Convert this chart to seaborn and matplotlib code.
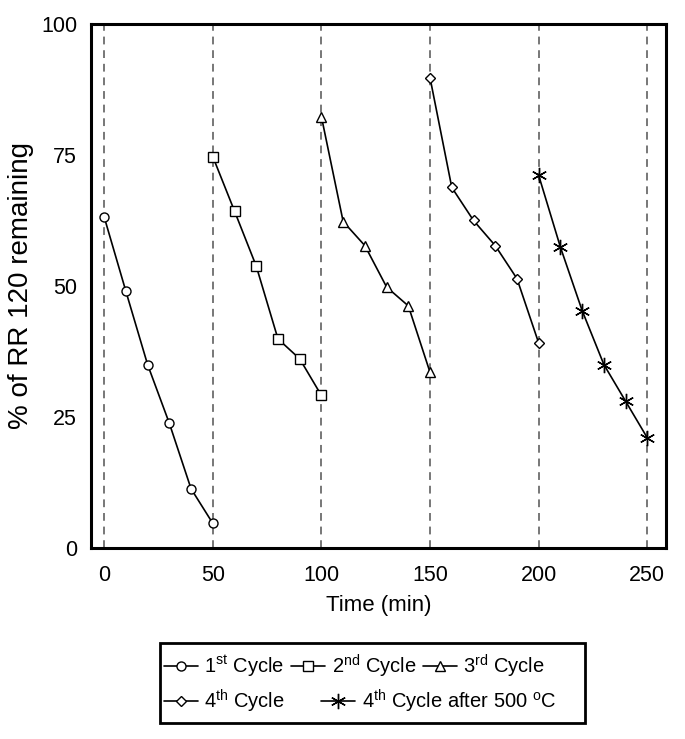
import matplotlib
matplotlib.use("Agg")
import matplotlib.pyplot as plt
from matplotlib.patches import Rectangle
import seaborn as sns
import pandas as pd

sns.set_style("white")
plt.rcParams["font.family"] = ["Liberation Sans", "DejaVu Sans"]
plt.rcParams["mathtext.default"] = "regular"
plt.rcParams["text.color"] = "black"
plt.rcParams["axes.labelcolor"] = "black"
plt.rcParams["xtick.color"] = "black"
plt.rcParams["ytick.color"] = "black"

# data
t1 = [0, 10, 20, 30, 40, 50]
c1 = [63.2, 49.0, 35.0, 23.8, 11.3, 4.7]
t2 = [50, 60, 70, 80, 90, 100]
c2 = [74.7, 64.3, 53.8, 39.9, 36.1, 29.1]
t3 = [100, 110, 120, 130, 140, 150]
c3 = [82.3, 62.3, 57.7, 49.8, 46.2, 33.5]
t4 = [150, 160, 170, 180, 190, 200]
c4 = [89.7, 68.8, 62.5, 57.7, 51.4, 39.1]
t5 = [200, 210, 220, 230, 240, 250]
c5 = [71.1, 57.4, 45.3, 35.0, 28.0, 21.0]

labels = ["1$^{st}$ Cycle", "2$^{nd}$ Cycle", "3$^{rd}$ Cycle",
          "4$^{th}$ Cycle", "4$^{th}$ Cycle after 500 $^{o}$C"]
markers = ["o", "s", "^", "D", (6, 2, 0)]
msizes = [6.5, 6.5, 7.5, 5.5, 11]
cycle_starts = [0, 50, 100, 150, 200, 250]

fig = plt.figure(figsize=(6.85, 7.39), dpi=100)
ax = fig.add_axes([0.133, 0.2585, 0.839, 0.709])

for x in cycle_starts:
    ax.axvline(x, color="#777777", ls=(0, (4, 3)), lw=1.4, zorder=1)

for t, c, lab, m, ms in zip([t1, t2, t3, t4, t5], [c1, c2, c3, c4, c5], labels, markers, msizes):
    df = pd.DataFrame({"time": t, "pct": c})
    sns.lineplot(data=df, x="time", y="pct", ax=ax, color="black", lw=1.2,
                 marker=m, markersize=ms, markerfacecolor="white",
                 markeredgecolor="black", markeredgewidth=1.0, label=lab, zorder=3)

h, l = ax.get_legend_handles_labels()
ax.get_legend().remove()

# legend box drawn as two rows, like the original
fig.patches.append(Rectangle((160 / 685, 1 - 723 / 739), 425 / 685, 80 / 739,
                             transform=fig.transFigure, fill=False,
                             edgecolor="black", lw=2.0))
leg_kw = dict(fontsize=14.5, frameon=False, handlelength=1.7, handletextpad=0.3,
              columnspacing=0.35, borderpad=0, borderaxespad=0, loc="center left")
leg1 = fig.legend(h[:3], l[:3], ncol=3, bbox_to_anchor=(164 / 685, 1 - 666 / 739), **leg_kw)
leg_kw["columnspacing"] = 1.8
leg2 = fig.legend(h[3:], l[3:], ncol=2, bbox_to_anchor=(164 / 685, 1 - 701 / 739), **leg_kw)

ax.set_xlim(-6, 258.5)
ax.set_ylim(0, 100)
ax.set_xticks([0, 50, 100, 150, 200, 250])
ax.set_yticks([0, 25, 50, 75, 100])
ax.set_xlabel("Time (min)", fontsize=16, labelpad=6)
ax.set_ylabel("% of RR 120 remaining", fontsize=20, labelpad=5)
ax.tick_params(axis="x", direction="inout", length=7, width=1.5, labelsize=15.5, pad=9)
ax.tick_params(axis="y", direction="out", length=5, width=1.5, labelsize=15.5, pad=5)
for sp in ax.spines.values():
    sp.set_linewidth(2.2)
    sp.set_color("black")

fig.savefig("out.png", dpi=100)
